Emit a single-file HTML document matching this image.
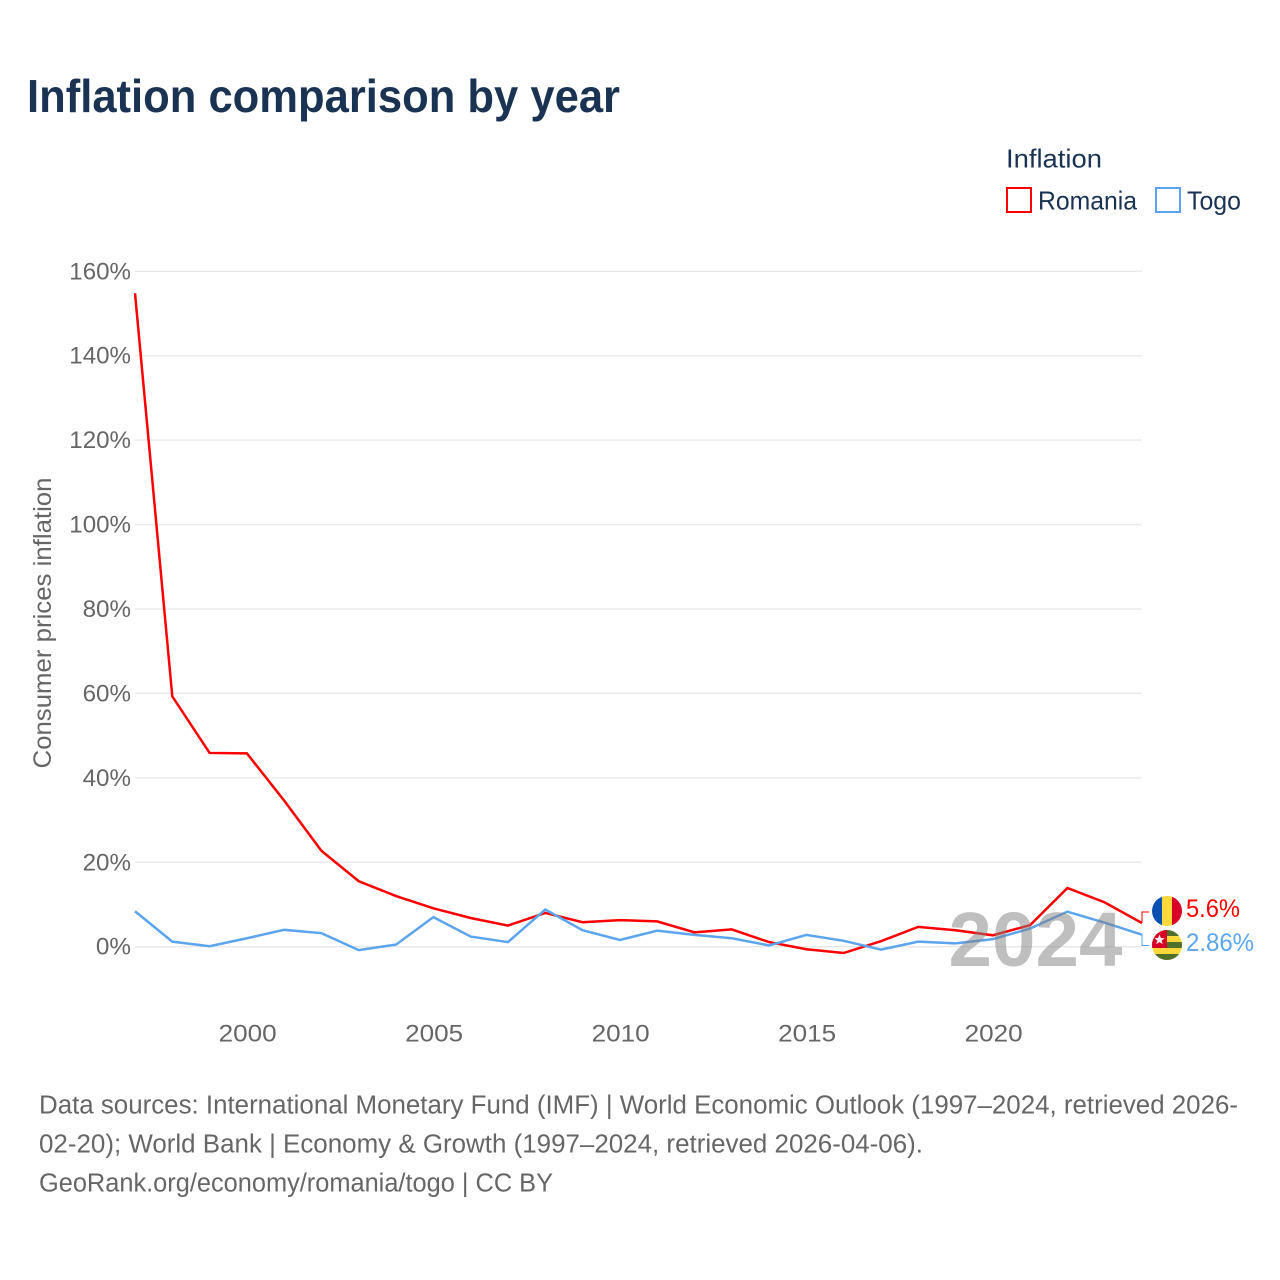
<!DOCTYPE html>
<html lang="en">
<head>
<meta charset="utf-8">
<title>Inflation comparison by year</title>
<style>
html,body{margin:0;padding:0;background:#fff;}
svg{display:block;font-family:"Liberation Sans",sans-serif;}
.tick{font-size:24.5px;fill:#666;}
.foot{font-size:25.5px;fill:#666;}
.leg{font-size:26px;fill:#1a3353;}
</style>
</head>
<body>
<svg id="chart" xmlns="http://www.w3.org/2000/svg" width="1280" height="1280" viewBox="0 0 1280 1280">
  <rect width="1280" height="1280" fill="#fff"/>
  <text x="27" y="112" font-size="46" font-weight="700" fill="#1a3353" textLength="593" lengthAdjust="spacingAndGlyphs">Inflation comparison by year</text>

  <g>
    <text class="leg" x="1006" y="167.5" textLength="96" lengthAdjust="spacingAndGlyphs">Inflation</text>
    <rect x="1007" y="188" width="24" height="24" fill="#fff" stroke="#ff0000" stroke-width="2"/>
    <text class="leg" x="1038" y="209.5" textLength="99" lengthAdjust="spacingAndGlyphs">Romania</text>
    <rect x="1156" y="188" width="24" height="24" fill="#fff" stroke="#5ca5ee" stroke-width="2"/>
    <text class="leg" x="1187" y="209.5" textLength="54" lengthAdjust="spacingAndGlyphs">Togo</text>
  </g>

  <g id="grid"></g>
  <g id="yticks"></g>
  <g id="xticks"></g>
  <text transform="translate(51,623) rotate(-90)" text-anchor="middle" font-size="25" fill="#666" textLength="291" lengthAdjust="spacingAndGlyphs">Consumer prices inflation</text>

  <g id="series"></g>

  <text id="watermark" x="1035.5" y="966" text-anchor="middle" font-size="77" font-weight="700" fill="#808080" fill-opacity="0.5" textLength="174" lengthAdjust="spacingAndGlyphs">2024</text>

  <g id="endmarks">
    <defs>
      <clipPath id="clip-ro"><circle id="clip-ro-c" cx="1167" cy="911" r="15"/></clipPath>
      <clipPath id="clip-tg"><circle id="clip-tg-c" cx="1167" cy="945" r="15"/></clipPath>
    </defs>
    <g clip-path="url(#clip-ro)">
      <rect x="1152" y="896" width="10" height="30" fill="#0a50b0"/>
      <rect x="1162" y="896" width="10" height="30" fill="#fcd83a"/>
      <rect x="1172" y="896" width="10" height="30" fill="#d80027"/>
    </g>
    <g clip-path="url(#clip-tg)">
      <rect x="1152" y="930" width="30" height="30" fill="#fcd83a"/>
      <rect x="1152" y="930" width="30" height="6" fill="#4f7029"/>
      <rect x="1152" y="942" width="30" height="6" fill="#4f7029"/>
      <rect x="1152" y="954" width="30" height="6" fill="#4f7029"/>
      <rect x="1152" y="930" width="15" height="18" fill="#d80027"/>
      <polygon points="1159.5,934.5 1160.9,938 1164.6,938.2 1161.7,940.5 1162.7,944.1 1159.5,942.1 1156.3,944.1 1157.3,940.5 1154.4,938.2 1158.1,938" fill="#f0f0f0"/>
    </g>
    <text x="1186" y="917" font-size="25" fill="#ff0000" textLength="54" lengthAdjust="spacingAndGlyphs">5.6%</text>
    <text x="1186" y="951" font-size="25" fill="#5ca5ee" textLength="68" lengthAdjust="spacingAndGlyphs">2.86%</text>
  </g>

  <g>
    <text class="foot" x="39" y="1113.5" textLength="1199" lengthAdjust="spacingAndGlyphs">Data sources: International Monetary Fund (IMF) | World Economic Outlook (1997–2024, retrieved 2026-</text>
    <text class="foot" x="39" y="1152.5" textLength="884" lengthAdjust="spacingAndGlyphs">02-20); World Bank | Economy &amp; Growth (1997–2024, retrieved 2026-04-06).</text>
    <text class="foot" x="39" y="1191.5" textLength="514" lengthAdjust="spacingAndGlyphs">GeoRank.org/economy/romania/togo | CC BY</text>
  </g>
</svg>
<script>
const years = [1997,1998,1999,2000,2001,2002,2003,2004,2005,2006,2007,2008,2009,2010,2011,2012,2013,2014,2015,2016,2017,2018,2019,2020,2021,2022,2023,2024];
const romaniaValues = [154.8,59.3,45.9,45.8,34.6,22.7,15.5,12.0,9.1,6.8,5.0,8.0,5.8,6.3,6.0,3.4,4.1,1.1,-0.6,-1.5,1.3,4.7,3.9,2.7,5.1,13.9,10.5,5.6];
const togoValues = [8.4,1.2,0.1,2.0,4.0,3.2,-0.8,0.5,7.0,2.4,1.1,8.8,3.9,1.6,3.8,2.8,2.0,0.3,2.8,1.4,-0.7,1.2,0.8,1.8,4.3,8.3,5.7,2.86];
const yTicks = [0,20,40,60,80,100,120,140,160];
const xTicks = [2000,2005,2010,2015,2020];

const NS = 'http://www.w3.org/2000/svg';
function xScale(year){ return 135 + (year - 1997) * (1142 - 135) / (2024 - 1997); }
function yScale(v){ return 946.7 - v * (946.7 - 271.3) / 160; }
function make(tag, attrs, parent){
  const el = document.createElementNS(NS, tag);
  for (const k in attrs) el.setAttribute(k, attrs[k]);
  parent.appendChild(el);
  return el;
}
const grid = document.getElementById('grid');
const yG = document.getElementById('yticks');
const xG = document.getElementById('xticks');
const seriesG = document.getElementById('series');
const endG = document.getElementById('endmarks');

yTicks.forEach(function(t){
  const line = make('line', {x1:135, x2:1142, y1:yScale(t), y2:yScale(t), stroke:'#e8e8e8', 'stroke-width':1.3}, grid);
  
  
  const label = make('text', {x:131, y:yScale(t) + 8, 'text-anchor':'end', class:'tick', textLength:String(t).length * 13.3 + 21.8, lengthAdjust:'spacingAndGlyphs'}, yG);
  
  
  label.textContent = t + '%';
});

xTicks.forEach(function(t){
  const label = make('text', {x:xScale(t) + 0.8, y:1041.5, 'text-anchor':'middle', class:'tick', textLength:58, lengthAdjust:'spacingAndGlyphs'}, xG);
  
  
  label.textContent = t;
});

function linePoints(values){
  return values.map(function(v, i){ return xScale(years[i]).toFixed(2) + ',' + yScale(v).toFixed(2); }).join(' ');
}
const romaniaLine = make('polyline', {points:linePoints(romaniaValues), fill:'none', stroke:'#ff0000', 'stroke-width':2.5, 'stroke-linejoin':'miter'}, seriesG);


const togoLine = make('polyline', {points:linePoints(togoValues), fill:'none', stroke:'#5ca5ee', 'stroke-width':2.5, 'stroke-linejoin':'miter'}, seriesG);



const lastX = xScale(years[years.length - 1]);
const roLeader = make('polyline', {points:lastX + ',' + yScale(romaniaValues[romaniaValues.length - 1]) + ' ' + lastX + ',912 1149,912', fill:'none', stroke:'#ff0000', 'stroke-width':1}, endG);


const tgLeader = make('polyline', {points:lastX + ',' + yScale(togoValues[togoValues.length - 1]) + ' ' + lastX + ',945.5 1149,945.5', fill:'none', stroke:'#5ca5ee', 'stroke-width':1}, endG);


</script>
</body>
</html>
